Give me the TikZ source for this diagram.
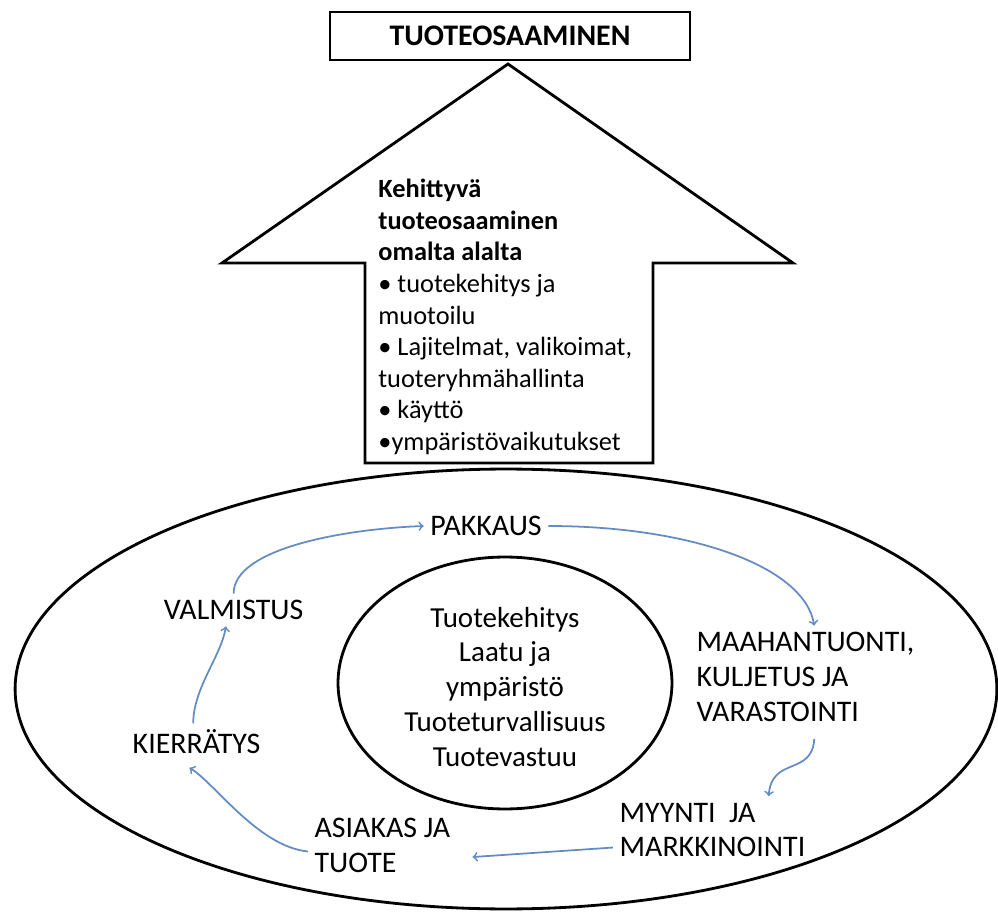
\documentclass[tikz,border=0pt]{standalone}
\usepackage{fontspec}
\setmainfont{Carlito}
\usetikzlibrary{shapes.geometric}
\definecolor{flowblue}{RGB}{100,140,195}

\begin{document}
\begin{tikzpicture}[x=0.02cm,y=-0.02cm,line width=1.6pt,
titlebox/.style={draw,rectangle,line width=1.6pt,minimum width=7.2cm,minimum height=0.96cm,font=\fontsize{17}{20}\selectfont\bfseries},
ring/.style={draw,ellipse,line width=1.6pt,inner sep=0pt},
stage/.style={align=left,inner sep=3pt,font=\fontsize{17}{19.9}\selectfont},
flow/.style={->,draw=flowblue,line width=1pt}]

\useasboundingbox (0,0) rectangle (998,912);

% big arrow
\draw[fill=white] (365,463) -- (365,263) -- (222,263) -- (508,64) -- (793,263) -- (653,263) -- (653,463) -- cycle;
\node[titlebox] (title) at (510,36) {TUOTEOSAAMINEN};
\node[anchor=west,align=left,inner sep=0pt,font=\fontsize{15}{18}\selectfont] (skills) at (377,317)
  {\textbf{Kehittyvä}\\ \textbf{tuoteosaaminen}\\ \textbf{omalta alalta}\\ • tuotekehitys ja\\ muotoilu\\
   • Lajitelmat, valikoimat,\\ tuoteryhmähallinta\\ • käyttö\\ •ympäristövaikutukset};

% ellipses
\node[ring,minimum width=19.64cm,minimum height=8.8cm] (outer) at (506,689) {};
\node[ring,minimum width=6.68cm,minimum height=5.04cm] (core) at (505,683) {};
\node[align=center,inner sep=0pt,font=\fontsize{16.5}{19.9}\selectfont] (focus) at (505,687)
  {Tuotekehitys\\ Laatu ja\\ ympäristö\\ Tuoteturvallisuus\\ Tuotevastuu};

% cycle
\node[stage] (pak) at (486,526) {PAKKAUS};
\node[stage,anchor=west] (maa) at (690,677) {MAAHANTUONTI,\\ KULJETUS JA\\ VARASTOINTI};
\node[stage,anchor=west] (myy) at (613,830) {MYYNTI\ \ JA\\ MARKKINOINTI};
\node[stage,anchor=west] (asi) at (308,845) {ASIAKAS JA\\ TUOTE};
\node[stage,anchor=east] (kierr) at (267,742) {KIERRÄTYS};
\node[stage,anchor=east] (valm) at (310,610) {VALMISTUS};

\draw[flow] (valm.north) .. controls +(0,-45) and +(-80,3) .. (pak.west);
\draw[flow] (pak.east) .. controls +(140,0) and +(-10,-60) .. ([xshift=5pt]maa.north);
\draw[flow] ([shift={(5pt,-6pt)}]maa.south) .. controls +(-2,37) and +(3,-40) .. ([xshift=32pt]myy.north);
\draw[flow,shorten >=9pt] (myy.190) -- (asi.-10);
\draw[flow] (asi.185) .. controls +(-50,-5) and +(25,15) .. ([shift={(-4pt,-4pt)}]kierr.south);
\draw[flow] (kierr.100) .. controls +(0,-35) and +(-5,30) .. (valm.-115);

\end{tikzpicture}
\end{document}
